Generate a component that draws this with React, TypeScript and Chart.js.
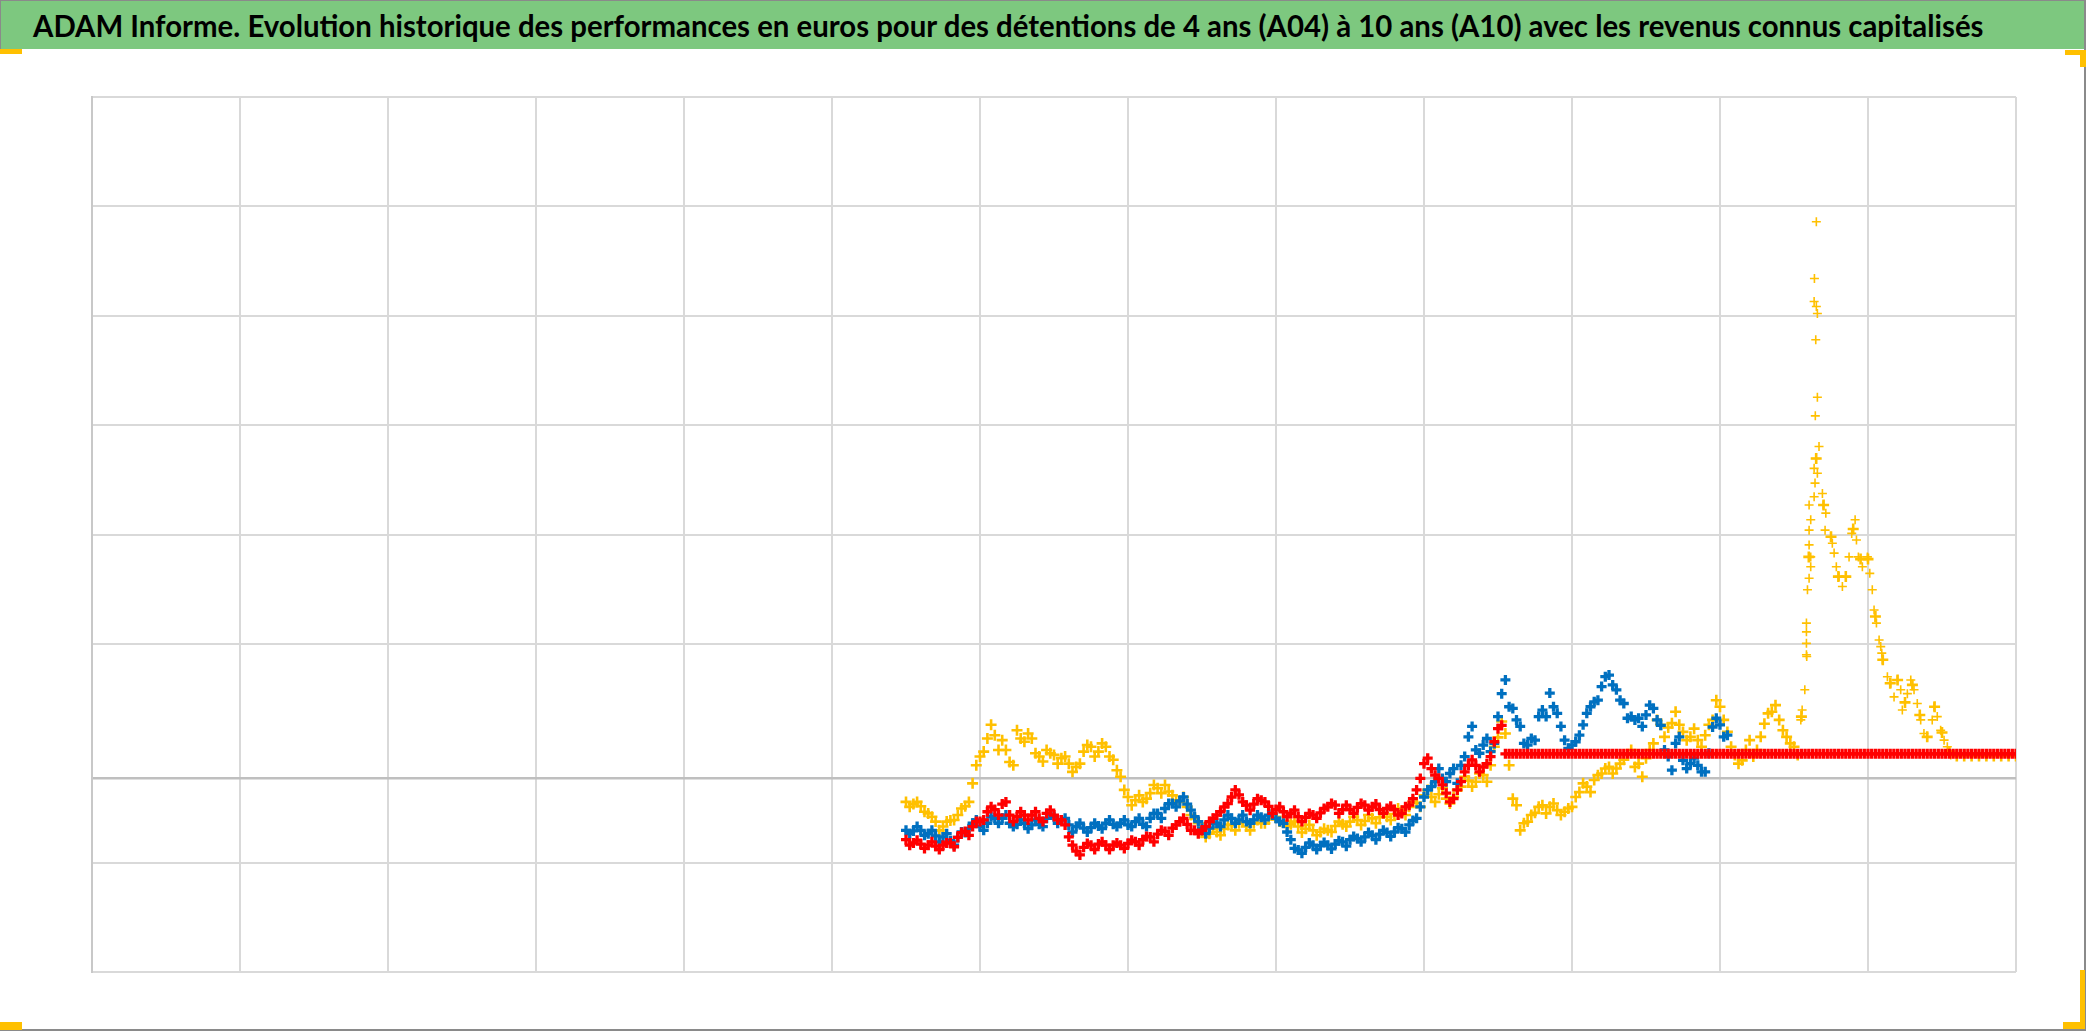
import React, { useEffect, useRef } from "react";
import { Chart, registerables } from "chart.js";

Chart.register(...registerables);

const TITLE =
  "ADAM Informe. Evolution historique des performances en euros pour des détentions de 4 ans (A04) à 10 ans (A10) avec les revenus connus capitalisés";

// x axis (years), one vertical gridline per year
const X_MIN = 2011;
const X_MAX = 2024;
// regular observations start / spacing (years); "Mid" arrays are read half a step later
const SAMPLE_START = 2016.5;
const SAMPLE_STEP = 0.05;
// y gridlines (0 is the horizontal axis)
const Y_TICKS = [-35.5, -15.5, 0, 24.5, 44.5, 64.5, 84.5, 104.5, 124.5];

const yellowValues = [
  -4.4, -4.8, -5.2, -6.5, -8.0, -8.9, -7.8, -6.8, -5.2, -1.0,
  3.9, 7.2, 7.8, 6.9, 2.9, 8.7, 6.6, 7.2, 3.9, 5.1,
  4.2, 3.6, 2.6, 2.0, 4.8, 5.7, 4.8, 5.7, 3.3, 0.2,
  -3.5, -4.1, -4.4, -2.8, -1.9, -1.3, -3.2, -4.4, -5.3, -7.4,
  -9.9, -10.2, -9.9, -9.3, -8.6, -8.3, -8.9, -8.3, -8.3, -7.6,
  -7.1, -7.9, -8.5, -8.9, -9.3, -9.6, -9.9, -9.6, -8.8, -8.5,
  -8.0, -7.7, -7.9, -7.4, -7.2, -7.1, -6.6, -6.0, -5.3, -4.6,
  -3.2, -3.5, -3.0, -3.8, -3.5, -1.6, -0.5, -0.7, 0.5, 2.3,
  7.4, 8.1, -3.8, -9.6, -8.0, -6.4, -5.0, -5.3, -5.9, -6.2,
  -5.3, -2.6, -1.6, -0.4, 0.8, 2.0, 1.7, 3.3, 5.1, 2.6,
  3.6, 6.3, 9.7, 9.2, 12.1, 8.4, 7.5, 6.9, 7.8, 10.6,
  13.0, 8.4, 4.2, 3.2, 6.9, 5.1, 9.9, 12.1, 10.6, 7.5,
  5.7, 11.2, 40.4, 58.4, 49.9, 44.1, 36.8, 36.8, 45.5, 40.0,
  40.0, 29.5, 21.6, 17.3, 17.9, 13.8, 17.0, 11.5, 7.5, 13.0,
  8.3, 4.8, 4.0, 4.0, 4.0, 4.0, 4.0, 4.0, 4.0, 4.0,
  4.0,
];
const yellowValuesMid = [
  -5.3, -4.4, -6.2, -7.1, -9.6, -8.0, -7.7, -5.6, -4.4, 2.3,
  4.8, 9.7, 5.1, 5.1, 2.3, 7.2, 8.1, 4.5, 3.0, 4.5,
  2.6, 3.9, 1.1, 2.6, 6.0, 3.9, 6.3, 3.9, 1.4, -2.2,
  -5.0, -3.2, -3.8, -1.3, -2.8, -2.5, -4.1, -3.5, -6.8, -8.3,
  -10.8, -9.3, -10.5, -8.6, -9.6, -8.0, -9.6, -7.7,
  -8.3, -6.8, -8.0, -8.9, -8.0, -10.0, -8.6, -10.5, -9.3, -9.9,
  -8.0, -8.9, -7.1, -8.6, -6.8, -8.3, -6.5, -7.7, -5.6, -6.8,
  -4.4, -5.3, -2.2, -4.4, -1.9, -4.7, -2.2, 0.2, -1.6, 0.8,
  -0.7, 5.7, 10.3, 2.3, -5.0, -8.3, -6.8, -5.3, -6.5, -4.7,
  -6.8, -5.6, -3.5, -1.0, -2.6, 0.5, 1.7, 0.8, 2.6, 4.2,
  2.0,
  0.2, 5.1, 10.6, 7.5, 10.0, 9.7, 6.9, 9.0, 5.7, 9.7,
  14.2, 10.6, 5.7, 2.6, 5.1, 3.9, 7.5, 11.8, 13.3, 8.7,
  6.3, 4.2,
];

const blueValues = [
  -9.6, -9.7, -9.6, -10.2, -10.6, -10.8, -11.5, -10.9, -10.0, -8.3,
  -8.9, -8.3, -7.4, -7.4, -8.3, -8.5, -8.3, -8.6, -8.5, -7.4,
  -7.1, -7.7, -8.6, -8.9, -9.2, -9.1, -8.8, -8.3, -8.5, -8.3,
  -8.6, -8.0, -8.5, -7.4, -6.5, -5.6, -4.7, -4.2, -4.8, -7.1,
  -9.2, -9.2, -8.3, -7.7, -7.4, -7.7, -8.0, -7.7, -7.2, -6.8,
  -7.4, -8.3, -11.3, -13.2, -12.7, -12.3, -12.4, -12.3, -12.1, -11.7,
  -11.3, -11.1, -10.8, -10.5, -10.3, -10.0, -9.9, -9.3, -8.6, -7.4,
  -3.5, -1.6, 1.7, -0.7, 1.7, 2.3, 7.5, 5.1, 6.0, 4.8,
  11.2, 17.9, 12.7, 9.4, 6.0, 6.9, 12.4, 15.5, 11.8, 6.9,
  6.0, 7.8, 11.8, 13.9, 16.7, 18.8, 16.1, 13.6, 11.2, 10.9,
  11.5, 12.7, 9.6, 3.9, 6.3, 3.2, 2.6, 2.3, 1.1, 9.3,
  9.7, 7.8,
];
const blueValuesMid = [
  -10.2, -8.9, -10.5, -9.6, -11.7, -10.2, -12.3, -9.9, -9.3, -7.7,
  -9.6, -7.1, -8.3, -6.8, -8.9, -7.7, -9.3, -7.7, -8.9, -6.8,
  -8.3, -7.4, -9.9, -8.3, -9.9, -8.3, -9.3, -7.7, -8.9, -7.7,
  -8.9, -7.4, -8.9, -6.5, -7.4, -4.7, -5.3, -3.5, -5.9, -8.0,
  -10.2, -8.3, -8.9, -6.8, -8.3, -6.8, -8.3, -6.8,
  -7.7, -6.5, -8.0, -9.9, -12.9, -13.8, -11.9, -13.1, -11.8, -13.0,
  -11.5, -12.5, -10.7, -11.7, -10.0, -11.3, -9.6, -10.7, -9.1, -9.9,
  -7.8, -5.3, -2.2, -0.7, -0.1, 0.8, -1.0, 3.9, 9.4, 4.5,
  7.2, 6.3, 15.4, 13.0, 10.6, 6.3, 7.2, 11.2, 11.2, 13.0,
  9.4, 5.4, 6.6, 9.7, 13.0, 14.2, 18.5, 17.0, 14.2, 10.9,
  10.6,
  9.4, 13.3, 10.6, 5.1, 1.4, 7.5, 1.7, 3.6, 1.1, 4.5,
  10.9, 7.5,
];

const redValues = [
  -11.3, -11.9, -12.1, -12.3, -12.5, -12.3, -11.9, -10.9, -9.8, -8.9,
  -8.0, -6.2, -5.8, -4.8, -6.8, -7.1, -6.8, -6.8, -7.4, -6.5,
  -6.8, -7.7, -10.8, -13.4, -12.7, -12.3, -12.1, -12.3, -12.3, -12.3,
  -12.0, -11.7, -11.3, -10.8, -10.3, -9.8, -9.2, -8.0, -8.5, -9.6,
  -9.6, -8.0, -6.8, -5.3, -3.5, -3.1, -5.0, -4.8, -4.1, -5.2,
  -5.8, -6.2, -6.5, -7.1, -7.2, -6.8, -6.4, -5.3, -5.0, -5.8,
  -5.8, -5.4, -5.0, -5.3, -5.8, -5.6, -5.8, -6.5, -5.0, -2.2,
  2.6, 1.7, -0.1, -2.8, -3.8, -0.7, 2.3, 2.3, 2.0, 3.9,
  9.0, 4.4, 4.4, 4.4, 4.4, 4.4, 4.4, 4.4, 4.4, 4.4,
  4.4, 4.4, 4.4, 4.4, 4.4, 4.4, 4.4, 4.4, 4.4, 4.4,
  4.4, 4.4, 4.4, 4.4, 4.4, 4.4, 4.4, 4.4, 4.4, 4.4,
  4.4, 4.4, 4.4, 4.4, 4.4, 4.4, 4.4, 4.4, 4.4, 4.4,
  4.4, 4.4, 4.4, 4.4, 4.4, 4.4, 4.4, 4.4, 4.4, 4.4,
  4.4, 4.4, 4.4, 4.4, 4.4, 4.4, 4.4, 4.4, 4.4, 4.4,
  4.4, 4.4, 4.4, 4.4, 4.4, 4.4, 4.4, 4.4, 4.4, 4.4,
  4.4,
];
const redValuesMid = [
  -12.3, -11.4, -12.9, -11.7, -13.1, -11.9, -12.6, -10.0, -10.5, -8.0,
  -7.7, -5.3, -6.8, -4.4, -8.0, -6.2, -7.7, -6.2, -8.0, -5.9,
  -7.7, -8.6, -12.3, -14.1, -12.0, -13.1, -11.7, -13.1, -11.9, -12.9,
  -11.4, -12.3, -10.7, -11.7, -9.6, -10.5, -8.6, -7.4, -9.6, -10.2,
  -8.9, -7.4, -6.2, -4.7, -2.2, -4.4, -5.9, -3.8,
  -4.4, -6.5, -5.3, -7.1, -5.9, -8.0, -6.5, -7.4, -5.6, -4.7,
  -6.5, -5.0, -6.5, -4.7, -5.9, -4.8, -6.5, -5.2, -6.8, -5.3,
  -3.8, -0.1, 3.6, 0.5, -1.3, -4.4, -2.2, 1.1, 3.3, 1.1,
  2.6, 6.6, 9.6,
  4.4, 4.4, 4.4, 4.4, 4.4, 4.4, 4.4, 4.4, 4.4, 4.4,
  4.4, 4.4, 4.4, 4.4, 4.4, 4.4, 4.4, 4.4, 4.4, 4.4,
  4.4, 4.4, 4.4, 4.4, 4.4, 4.4, 4.4, 4.4, 4.4, 4.4,
  4.4, 4.4, 4.4, 4.4, 4.4, 4.4, 4.4, 4.4, 4.4, 4.4,
  4.4, 4.4, 4.4, 4.4, 4.4, 4.4, 4.4, 4.4, 4.4, 4.4,
  4.4, 4.4, 4.4, 4.4, 4.4, 4.4, 4.4, 4.4, 4.4, 4.4,
  4.4, 4.4, 4.4, 4.4, 4.4, 4.4, 4.4, 4.4, 4.4,
];

// extra daily observations of the yellow series in its volatile period
const yellowSpikeX = [
  2022.651, 2022.638, 2022.636, 2022.651, 2022.658, 2022.647, 2022.658, 2022.644,
  2022.669, 2022.647, 2022.636, 2022.658, 2022.642, 2022.636, 2022.602, 2022.613,
  2022.602, 2022.602, 2022.613, 2022.613, 2022.602, 2022.591, 2022.584, 2022.584,
  2022.584, 2022.584, 2022.586, 2022.573, 2022.555, 2022.546, 2022.692, 2022.697,
  2022.715, 2022.71, 2022.749, 2022.759, 2022.771, 2022.786, 2022.804, 2022.827,
  2022.85, 2022.872, 2022.89, 2022.913, 2022.922, 2022.935, 2022.962, 2022.996,
  2023.012, 2023.029, 2023.041, 2023.057, 2023.075, 2023.093, 2023.086, 2023.097,
  2023.131, 2023.154, 2023.176, 2023.198, 2023.221, 2023.232, 2023.266, 2023.289,
  2023.311, 2023.333, 2023.356, 2023.378, 2023.401, 2023.434, 2023.446, 2023.468,
  2023.491, 2023.514, 2023.536, 2023.559,
];
const yellowSpikeY = [
  101.7, 91.3, 87.1, 86.2, 84.9, 80.1, 69.6, 66.2,
  60.6, 58.4, 56.6, 55.7, 53.9, 51.4, 49.9, 47.2,
  45.3, 42.6, 40.4, 38.6, 36.5, 34.4, 28.3, 26.7,
  24.6, 22.5, 22.2, 16.1, 12.4, 10.6, 52.0, 49.9,
  48.4, 45.3, 44.1, 42.9, 41.1, 38.6, 36.8, 35.0,
  36.8, 40.4, 44.7, 47.2, 43.5, 40.4, 38.6, 40.4,
  37.4, 34.4, 30.7, 28.3, 25.2, 22.8, 24.0, 21.6,
  18.5, 17.3, 14.8, 17.9, 16.1, 12.4, 15.4, 17.9,
  16.1, 13.6, 10.6, 8.1, 7.5, 10.6, 13.0, 11.2,
  8.7, 6.9, 5.7, 4.2,
];

const YELLOW = "#FFC000";
const BLUE = "#0070C0";
const RED = "#FF0000";
const GRID = "#d9d9d9";
const AXIS = "#bfbfbf";

const regular = (vals: number[], offset: number) =>
  vals.map((v, i) => ({ x: SAMPLE_START + (i + offset) * SAMPLE_STEP, y: v }));

export default function App() {
  const canvasRef = useRef<HTMLCanvasElement | null>(null);
  const titleRef = useRef<HTMLSpanElement | null>(null);

  useEffect(() => {
    const fit = () => {
      const el = titleRef.current;
      if (!el) return;
      el.style.transform = "none";
      const w = el.scrollWidth;
      if (w > 0) el.style.transform = `scaleX(${1950 / w})`;
    };
    fit();
    if ((document as any).fonts && (document as any).fonts.ready) {
      (document as any).fonts.ready.then(fit);
    }

    const canvas = canvasRef.current;
    if (!canvas) return;
    const nYellowRegular = yellowValues.length + yellowValuesMid.length;
    const yellowData = regular(yellowValues, 0)
      .concat(regular(yellowValuesMid, 0.5))
      .concat(yellowSpikeX.map((x, i) => ({ x, y: yellowSpikeY[i] })));
    const chart = new Chart(canvas, {
      type: "scatter",
      data: {
        datasets: [
          {
            label: "A04",
            data: regular(redValues, 0).concat(regular(redValuesMid, 0.5)),
            borderColor: RED,
            backgroundColor: RED,
            pointStyle: "cross",
            pointRadius: 5,
            pointBorderWidth: 3.3,
            showLine: false,
            order: 0,
          },
          {
            label: "A07",
            data: regular(blueValues, 0).concat(regular(blueValuesMid, 0.5)),
            borderColor: BLUE,
            backgroundColor: BLUE,
            pointStyle: "cross",
            pointRadius: 5,
            pointBorderWidth: 3.3,
            showLine: false,
            order: 1,
          },
          {
            label: "A10",
            data: yellowData,
            borderColor: YELLOW,
            backgroundColor: YELLOW,
            pointStyle: "cross",
            pointRadius: (ctx: any) => (ctx.dataIndex >= nYellowRegular ? 4.5 : 5.5),
            pointBorderWidth: (ctx: any) => (ctx.dataIndex >= nYellowRegular ? 1.6 : 2.6),
            showLine: false,
            order: 2,
          },
        ],
      },
      options: {
        animation: false,
        responsive: false,
        maintainAspectRatio: false,
        devicePixelRatio: 1,
        layout: { padding: { left: 10, top: 10, right: 10, bottom: 10 } },
        plugins: {
          legend: { display: false },
          tooltip: { enabled: false },
          title: { display: false },
        },
        scales: {
          x: {
            type: "linear",
            min: X_MIN,
            max: X_MAX,
            ticks: { stepSize: 1, display: false },
            grid: { color: GRID, lineWidth: 2, drawTicks: false },
            border: { display: false },
          },
          y: {
            type: "linear",
            min: Y_TICKS[0],
            max: Y_TICKS[Y_TICKS.length - 1],
            afterBuildTicks: (axis: any) => {
              axis.ticks = Y_TICKS.map((value) => ({ value }));
            },
            ticks: { display: false },
            grid: {
              color: (ctx: any) => (ctx.tick && ctx.tick.value === 0 ? AXIS : GRID),
              lineWidth: (ctx: any) => (ctx.tick && ctx.tick.value === 0 ? 2.5 : 2),
              drawTicks: false,
            },
            border: { display: true, color: "#c8c8c8", width: 2 },
          },
        },
      },
    });
    return () => chart.destroy();
  }, []);

  const line = (l: number, t: number, w: number, h: number, c: string) => (
    <div style={{ position: "absolute", left: l, top: t, width: w, height: h, background: c }} />
  );

  return (
    <div
      style={{
        position: "absolute",
        left: 0,
        top: 0,
        width: 2086,
        height: 1031,
        background: "#ffffff",
        overflow: "hidden",
      }}
    >
      <div
        style={{
          position: "absolute",
          left: 0,
          top: 0,
          width: 2086,
          height: 49,
          background: "#7dc87f",
        }}
      />
      <span
        ref={titleRef}
        style={{
          position: "absolute",
          left: 33,
          top: 0,
          lineHeight: "50px",
          fontFamily: "Lato, 'Open Sans', sans-serif",
          fontWeight: 700,
          fontSize: 30,
          color: "#000",
          whiteSpace: "nowrap",
          transformOrigin: "0 50%",
          display: "inline-block",
        }}
      >
        {TITLE}
      </span>
      <canvas
        ref={canvasRef}
        width={1944}
        height={895}
        style={{ position: "absolute", left: 82, top: 87, width: 1944, height: 895 }}
      />
      {line(0, 0, 2086, 1, "#8a8a8a")}
      {line(0, 0, 1, 50, "#8a8a8a")}
      {line(2084, 0, 2, 1031, "#8a8a8a")}
      {line(0, 1029, 2086, 2, "#8a8a8a")}
      {line(0, 49, 22, 5, YELLOW)}
      {line(2065, 50, 21, 5, YELLOW)}
      {line(2080, 50, 6, 17, YELLOW)}
      {line(0, 1022, 22, 8, YELLOW)}
      {line(2063, 1022, 22, 7, YELLOW)}
      {line(2080, 970, 5, 59, YELLOW)}
    </div>
  );
}
